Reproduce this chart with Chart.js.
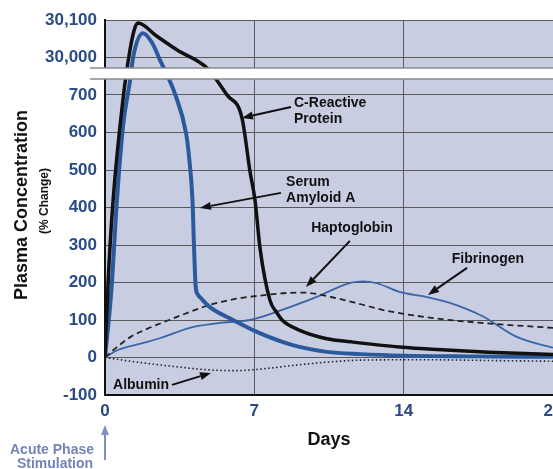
<!DOCTYPE html>
<html>
<head>
<meta charset="utf-8">
<script src="https://cdn.jsdelivr.net/npm/chart.js@4.4.1/dist/chart.umd.min.js"></script>
<style>
    html, body { margin: 0; padding: 0; background: #fff; overflow: hidden; }
    #wrap { width: 553px; height: 469px; }
</style>
</head>
<body>
<div id="wrap"><canvas id="chart" width="553" height="469"></canvas></div>
<script>
/* ── data (% change from baseline, x in days) ── */
const crpDays   = [0, 0.15, 0.38, 0.84, 1.17, 1.4, 1.55, 2.4, 3.38, 4.78, 5.72, 6.42, 6.8, 7.03, 7.27, 7.73, 8.05, 8.3, 9.1, 10.4, 11.5, 13.8, 16, 18, 21];
const crpValues = [0, 207, 420, 687, 30020, 30079, 30092, 30058, 30020, 29972, 700, 639, 495, 420, 290, 153, 120, 100, 73, 50, 42, 28, 20, 14, 8];

const saaDays   = [0, 0.3, 0.56, 0.85, 1.15, 1.35, 1.78, 2.2, 2.58, 3.3, 3.8, 3.95, 4.1, 4.17, 4.25, 4.35, 4.5, 4.9, 6.0, 7.25, 8.8, 10.4, 12, 14, 17, 21];
const saaValues = [0, 180, 420, 620, 730, 30010, 30065, 30040, 29993, 700, 598, 530, 420, 300, 190, 168, 158, 135, 100, 65, 33, 15, 9, 5, 3, 2];

const hapDays   = [0, 0.5, 1.2, 2, 3, 4, 4.9, 6, 7.25, 8.5, 9.3, 10.7, 12, 13, 15.4, 17.7, 21];
const hapValues = [0, 25, 55, 77, 100, 122, 140, 155, 165, 172, 173, 160, 142, 127, 105, 92, 79];

const fibDays   = [0, 0.6, 1.8, 2.6, 4.1, 5.5, 6.8, 8.3, 9.9, 11.5, 12.1, 12.75, 13.8, 15.1, 16.2, 17.7, 19.3, 21];
const fibValues = [0, 20, 39, 52, 81, 93, 100, 127, 161, 199, 203, 198, 175, 161, 145, 110, 55, 26];

const albDays   = [0, 1.2, 2.6, 4.9, 6.2, 7.25, 9, 10.5, 12, 15, 18, 21];
const albValues = [0, -10, -20, -33, -35, -31, -20, -12, -7, -6, -8, -10];

const yTickValues = [-100, 0, 100, 200, 300, 400, 500, 600, 700, 30000, 30100];
const xTickStep   = 7;

/* ── broken axis: 30,000 is drawn where 800 would sit ── */
const BREAK_SHIFT = 29200;
const toAxis = v => v > 5000 ? v - BREAK_SHIFT : v;
const pts = (days, vals) => days.map((d, i) => ({ x: d, y: toAxis(vals[i]) }));

/* ── labels + arrows, placed in axis units ── */
const notes = [
    { lines: ['C-Reactive', 'Protein'], day: 8.86,  at: 679, align: 'left' },
    { lines: ['Serum', 'Amyloid A'],    day: 8.49,  at: 468, align: 'left' },
    { lines: ['Haptoglobin'],           day: 11.58, at: 345, align: 'center' },
    { lines: ['Fibrinogen'],            day: 17.95, at: 263, align: 'center' },
    { lines: ['Albumin'],               day: 1.69,  at: -73, align: 'center' },
];
const arrows = [
    { from: [8.72, 668],  to: [6.42, 639] },
    { from: [8.25, 439],  to: [4.45, 399] },
    { from: [11.48, 311], to: [9.42, 188] },
    { from: [16.97, 239], to: [15.14, 167] },
    { from: [3.14, -73],  to: [4.97, -41] },
];

const FONT   = "'Liberation Sans', Arial, sans-serif";
const BLUE   = '#2b4b88';
const PLOTBG = '#c9cde2';

function arrow(ctx, x1, y1, x2, y2, color, lw, headLen, headW) {
    const a = Math.atan2(y2 - y1, x2 - x1);
    const bx = x2 - headLen * Math.cos(a), by = y2 - headLen * Math.sin(a);
    ctx.strokeStyle = color; ctx.fillStyle = color; ctx.lineWidth = lw;
    ctx.beginPath(); ctx.moveTo(x1, y1); ctx.lineTo(bx, by); ctx.stroke();
    ctx.beginPath();
    ctx.moveTo(x2, y2);
    ctx.lineTo(bx + headW * Math.sin(a), by - headW * Math.cos(a));
    ctx.lineTo(bx - headW * Math.sin(a), by + headW * Math.cos(a));
    ctx.closePath(); ctx.fill();
}

const extras = {
    id: 'extras',
    beforeDraw(chart) {
        const { ctx, chartArea: a } = chart;
        ctx.save();
        ctx.fillStyle = PLOTBG;
        ctx.fillRect(a.left, a.top, a.right - a.left, a.bottom - a.top);
        ctx.restore();
    },
    afterDatasetsDraw(chart) {
        const { ctx, chartArea: a, scales: { x, y } } = chart;
        ctx.save();

        // axis break band
        const bt = Math.round(y.getPixelForValue(772)), bb = Math.round(y.getPixelForValue(743));
        ctx.fillStyle = '#fff';
        ctx.fillRect(90, bt, chart.width - 90, bb - bt);
        ctx.strokeStyle = '#8a8a8a'; ctx.lineWidth = 1.5;
        ctx.beginPath();
        ctx.moveTo(90, bt); ctx.lineTo(chart.width, bt);
        ctx.moveTo(90, bb); ctx.lineTo(chart.width, bb);
        ctx.stroke();

        // curve labels
        ctx.fillStyle = '#111';
        ctx.font = `bold 14px ${FONT}`;
        ctx.textBaseline = 'middle';
        notes.forEach(n => {
            ctx.textAlign = n.align;
            const px = x.getPixelForValue(n.day), py = y.getPixelForValue(n.at);
            n.lines.forEach((t, i) => ctx.fillText(t, px, py + i * 16));
        });
        arrows.forEach(r => arrow(ctx,
            x.getPixelForValue(r.from[0]), y.getPixelForValue(r.from[1]),
            x.getPixelForValue(r.to[0]),   y.getPixelForValue(r.to[1]),
            '#111', 2, 11, 4));

        // axis titles
        ctx.textAlign = 'center';
        ctx.font = `bold 18px ${FONT}`;
        ctx.fillText('Days', (a.left + a.right) / 2, 440);

        ctx.save();
        ctx.translate(22, 205); ctx.rotate(-Math.PI / 2);
        ctx.fillText('Plasma Concentration', 0, 0);
        ctx.restore();
        ctx.save();
        ctx.translate(45, 201); ctx.rotate(-Math.PI / 2);
        ctx.font = `bold 12px ${FONT}`;
        ctx.fillText('(% Change)', 0, 0);
        ctx.restore();

        // stimulation marker
        ctx.fillStyle = '#7483b8';
        ctx.font = `bold 14px ${FONT}`;
        ctx.fillText('Acute Phase', 52, 450);
        ctx.fillText('Stimulation', 55, 464);
        arrow(ctx, a.left, 460, a.left, 425, '#7f8dc0', 2, 10, 4);

        ctx.restore();
    }
};

const lineBase = { pointRadius: 0, fill: false, cubicInterpolationMode: 'monotone' };

new Chart(document.getElementById('chart').getContext('2d'), {
    type: 'line',
    data: {
        datasets: [
            { ...lineBase, label: 'C-Reactive Protein', data: pts(crpDays, crpValues), borderColor: '#111111', borderWidth: 3.5 },
            { ...lineBase, label: 'Serum Amyloid A',    data: pts(saaDays, saaValues), borderColor: '#2b5a9c', borderWidth: 4 },
            { ...lineBase, label: 'Haptoglobin',        data: pts(hapDays, hapValues), borderColor: '#222222', borderWidth: 1.8, borderDash: [6, 4] },
            { ...lineBase, label: 'Fibrinogen',         data: pts(fibDays, fibValues), borderColor: '#3a65a8', borderWidth: 1.8 },
            { ...lineBase, label: 'Albumin',            data: pts(albDays, albValues), borderColor: '#222222', borderWidth: 1.6, borderDash: [1.5, 2.5] },
        ]
    },
    options: {
        responsive: false,
        animation: false,
        layout: { padding: { top: 20, left: 0, right: 0, bottom: 0 } },
        plugins: { legend: { display: false }, tooltip: { enabled: false } },
        scales: {
            x: {
                type: 'linear', min: 0, max: 21,
                grid: { color: '#5a5a5a', lineWidth: 1, drawTicks: false },
                border: { color: '#111', width: 2 },
                ticks: { stepSize: xTickStep, autoSkip: false, maxRotation: 0, padding: 6, color: BLUE, font: { family: FONT, size: 17, weight: 'bold' } },
                afterFit: s => { s.height = 74; s.paddingLeft = 0; s.paddingRight = 0; }
            },
            y: {
                type: 'linear', min: -100, max: 900,
                grid: { color: '#5a5a5a', lineWidth: 1, drawTicks: false },
                border: { color: '#111', width: 2 },
                afterBuildTicks: s => { s.ticks = yTickValues.map(v => ({ value: toAxis(v) })); },
                ticks: {
                    padding: 8, color: BLUE, font: { family: FONT, size: 17, weight: 'bold' },
                    callback: (v, i) => yTickValues[i].toLocaleString('en-US')
                },
                afterFit: s => { s.width = 105; s.paddingTop = 0; s.paddingBottom = 0; }
            }
        }
    },
    plugins: [extras]
});
</script>
</body>
</html>
